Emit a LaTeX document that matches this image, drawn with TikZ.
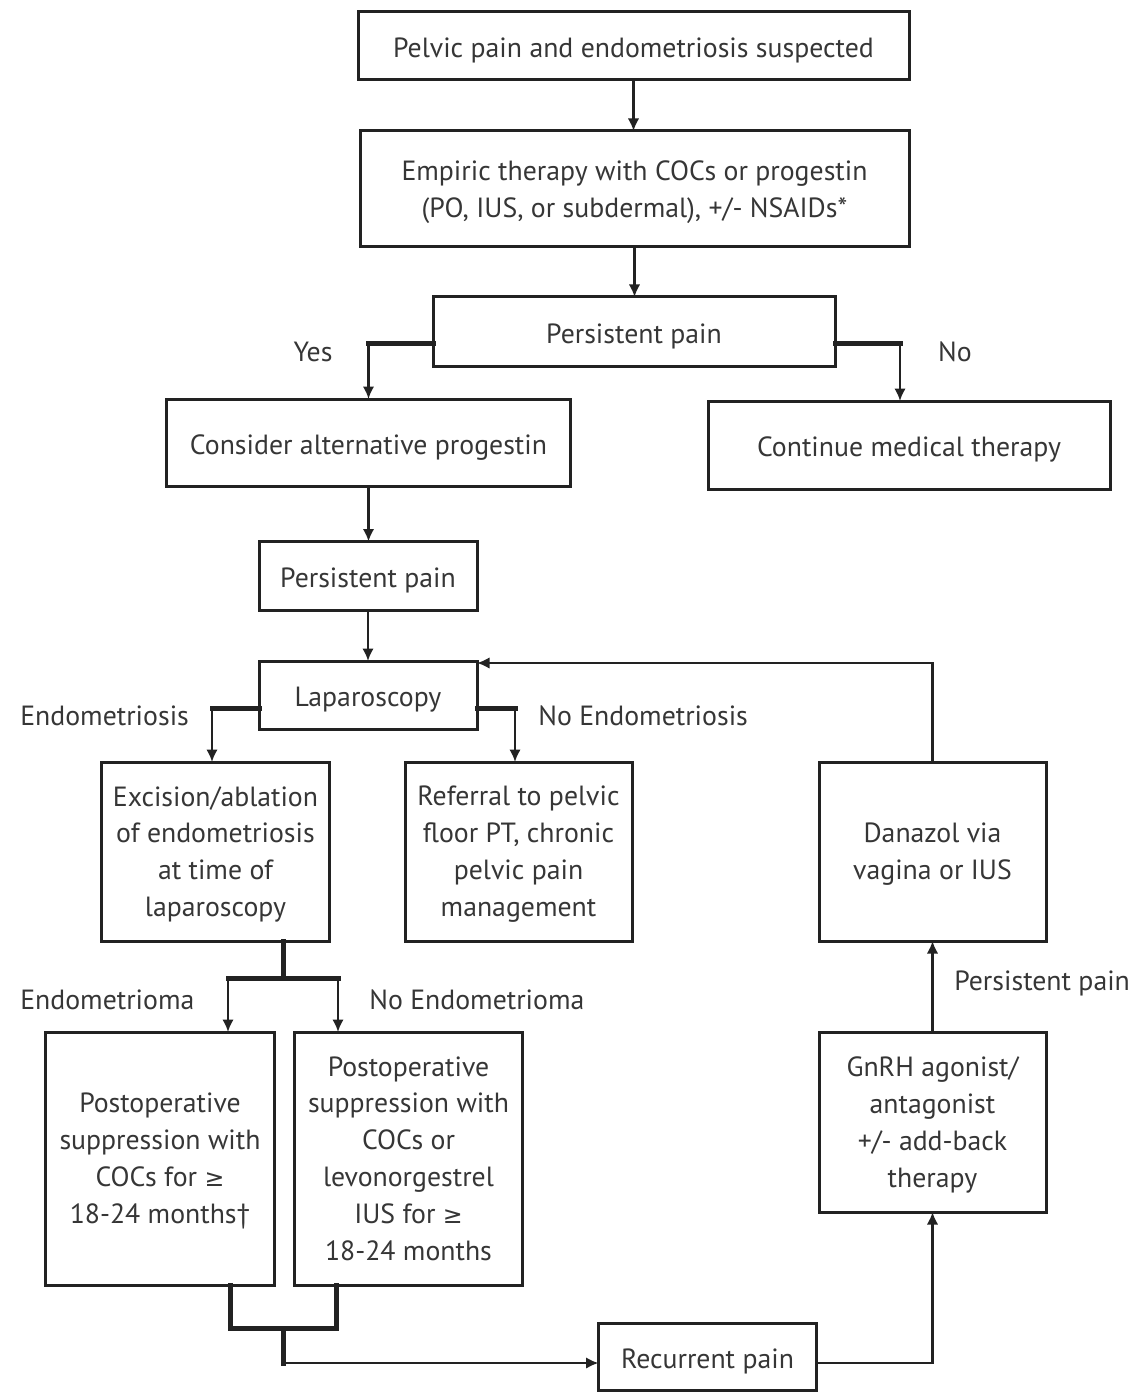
\documentclass[tikz,border=0pt]{standalone}
\usepackage{fontspec}
\setmainfont{PT Sans}
\newfontfamily\symfont{DejaVu Sans}
\usepackage{tikz}
\usetikzlibrary{arrows.meta,positioning,calc}
\definecolor{ink}{HTML}{222222}
\definecolor{txt}{HTML}{363636}
\tikzset{
  box/.style={draw=ink, line width=0.6mm, inner sep=0pt, outer sep=0pt, align=center,
              text=txt, font=\fontsize{15.8}{21}\selectfont,
              execute at begin node={\rule[-3.4pt]{0pt}{20.2pt}}},
  tbox/.style={box, minimum width=45.4mm, minimum height=35.8mm, text depth=-1pt},
  sbox/.style={box, minimum width=43.6mm, minimum height=13.8mm},
  lbl/.style={text=txt, font=\fontsize{15.8}{21}\selectfont, inner sep=0pt},
  thk/.style={draw=ink, line width=1mm, line cap=rect},
  arr/.style={-{Latex[length=2.5mm, width=2.3mm]}, draw=ink, line width=0.45mm}
}
\begin{document}
\begin{tikzpicture}[x=0.2mm, y=-0.2mm]
\useasboundingbox (0,0) rectangle (1135,1392);
\node[box, minimum width=110.2mm, minimum height=13.6mm] (b1) at (633.5,46) {Pelvic pain and endometriosis suspected};
\node[box, minimum width=109.8mm, minimum height=23.2mm, text depth=-1pt] (b2) at (634.5,189) {Empiric therapy with COCs or progestin\\ (PO, IUS, or subdermal), +/- NSAIDs*};
\node[box, minimum width=80.4mm, minimum height=13.8mm] (b3) at (634,331.5) {Persistent pain};
\node[box, minimum width=80.6mm, minimum height=17.4mm] (b4) at (368.5,442.5) {Consider alternative progestin};
\node[box, minimum width=80.4mm, minimum height=17.6mm] (b5) at (909,445) {Continue medical therapy};
\node[sbox] (b6) at (368,576) {Persistent pain};
\node[sbox, minimum height=13.6mm] (b7) at (368,695) {Laparoscopy};
\node[tbox] (c1) at (215.5,851.5) {Excision/ablation\\ of endometriosis\\ at time of\\ laparoscopy};
\node[tbox] (c2) at (518.5,851.5) {Referral to pelvic\\ floor PT, chronic\\ pelvic pain\\ management};
\node[tbox] (c3) at (932.5,851.5) {Danazol via\\ vagina or IUS};
\node[tbox, minimum width=45.6mm, minimum height=50.6mm] (d1) at (160,1158.5) {Postoperative\\ suppression with\\ COCs for {\symfont\fontsize{13.5}{21}\selectfont ≥}\\ 18-24 months†};
\node[tbox, minimum width=45.6mm, minimum height=50.6mm] (d2) at (408.5,1158.5) {Postoperative\\ suppression with\\ COCs or\\ levonorgestrel\\ IUS for {\symfont\fontsize{13.5}{21}\selectfont ≥}\\ 18-24 months};
\node[tbox, minimum height=36mm] (d3) at (932.5,1122) {GnRH agonist/\\ antagonist\\ +/- add-back\\ therapy};
\node[sbox, minimum height=13.4mm] (d4) at (707.5,1356.5) {Recurrent pain};
% labels
\node[lbl] (yes) at (313,352) {Yes};
\node[lbl] (no) at (955,352) {No};
\node[lbl, anchor=west] (endo) at (20,716) {Endometriosis};
\node[lbl, anchor=west] (noendo) at (538,716) {No Endometriosis};
\node[lbl, anchor=west] (oma) at (20,1000) {Endometrioma};
\node[lbl, anchor=west] (nooma) at (369,1000) {No Endometrioma};
\node[lbl, anchor=west] (pers) at (954,983) {Persistent pain};
% junctions
\coordinate (jy) at (368.5,343);
\coordinate (jn) at (900,343);
\coordinate (je) at (212,708);
\coordinate (jne) at (515,708);
\coordinate (js) at (283,978);
\coordinate (jsl) at (228,978);
\coordinate (jsr) at (338,978);
\coordinate (jml) at (230,1328);
\coordinate (jmr) at (336,1328);
\coordinate (jm) at (283,1328);
\coordinate (jt) at (283,1363);
\coordinate (jb) at (477,663);
% connectors
\draw[arr] (b1.south) -- (b1.south|-b2.north);
\draw[arr] (b2.south) -- (b2.south|-b3.north);
\draw[thk] (b3.west|-jy) -- (jy); \draw[arr] (jy) -- (jy|-b4.north);
\draw[thk] (b3.east|-jn) -- (jn); \draw[arr] (jn) -- (jn|-b5.north);
\draw[arr] (b4.south) -- (b4.south|-b6.north);
\draw[arr] (b6.south) -- (b6.south|-b7.north);
\draw[thk] (b7.west|-je) -- (je); \draw[arr] (je) -- (je|-c1.north);
\draw[thk] (b7.east|-jne) -- (jne); \draw[arr] (jne) -- (jne|-c2.north);
\draw[thk] (js|-c1.south) -- (js); \draw[thk] (jsl) -- (jsr);
\draw[arr] (jsl) -- (jsl|-d1.north); \draw[arr] (jsr) -- (jsr|-d2.north);
\draw[thk] (jml|-d1.south) -- (jml) -- (jmr) -- (jmr|-d2.south);
\draw[thk] (jm) -- (jt); \draw[arr] (jt) -- (jt-|d4.west);
\draw[arr] (d4.east|-jt) -| (d3.south);
\draw[arr] (d3.north) -- (c3.south);
\draw[arr] (c3.north) |- (jb);
\end{tikzpicture}
\end{document}
